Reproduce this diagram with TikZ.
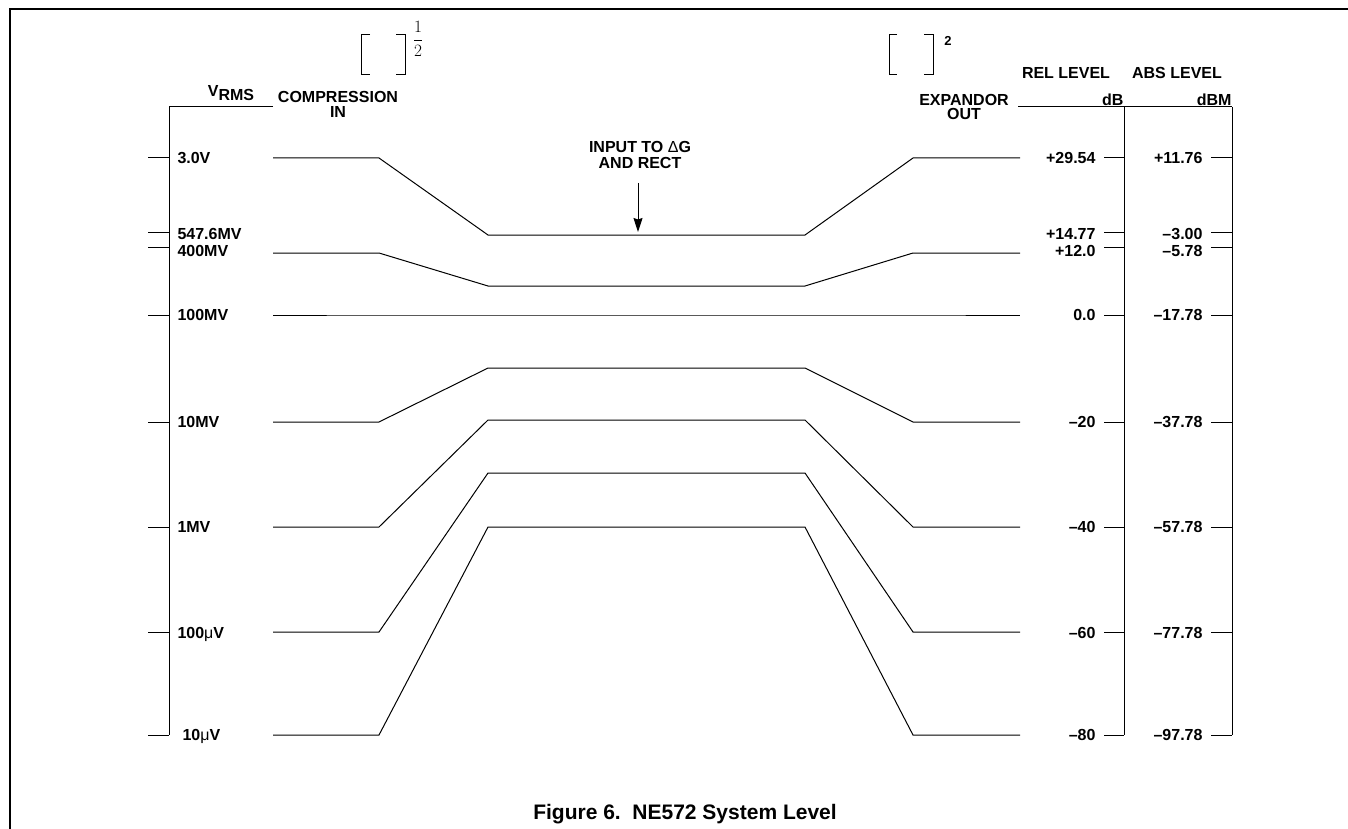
\documentclass[tikz,border=0pt]{standalone}
\usepackage{fontspec}
\setmainfont{Liberation Sans}
\usetikzlibrary{arrows.meta}
\tikzset{
  lbl/.style={font=\bfseries\fontsize{16}{17}\selectfont, inner sep=0pt, text height=11.5pt, text depth=0pt},
  tick/.style={line width=1pt},
}
\begin{document}
\begin{tikzpicture}[x=1pt,y=-1pt,line width=1pt]
\useasboundingbox (0,0) rectangle (1348,829);
% frame
\draw[line width=1.4pt] (10,829) -- (10,9) -- (1348,9);

% scales
\draw (273,107) -- (169,107) -- (169,735);
\draw (1018,107) -- (1232,107);
\draw (1124,107) -- (1124,735);
\draw (1232,107) -- (1232,735);

% ticks and level labels
\foreach \ty/\ly/\lx/\vl/\rl/\al [count=\i] in {
    158/158/177/3.0V/+29.54/+11.76,
    232/234/177/547.6MV/+14.77/{--3.00},
    247/251/177/400MV/+12.0/{--5.78},
    315/315/177/100MV/0.0/{--17.78},
    422/422/177/10MV/{--20}/{--37.78},
    527/527/177/1MV/{--40}/{--57.78},
    632/633/177/100{\mdseries μ}V/{--60}/{--77.78},
    735/735/182/10{\mdseries μ}V/{--80}/{--97.78}}{
  \draw[tick] (148,\ty) -- (169,\ty);
  \draw[tick] (1104,\ty) -- (1124,\ty);
  \draw[tick] (1211,\ty) -- (1232,\ty);
  \node[lbl, anchor=west] (v\i) at (\lx,\ly) {\vl};
  \node[lbl, anchor=east] (rel\i) at (1096,\ly) {\rl};
  \node[lbl, anchor=east] (abs\i) at (1203,\ly) {\al};
}

% signal levels through compressor and expandor
\foreach \yo/\ym in {158/235, 253/286, 315/315, 422/368, 527/420, 632/473, 735/527}
  \draw (273,\yo) -- (379,\yo) -- (488,\ym) -- (805,\ym) -- (913,\yo) -- (1020,\yo);

% column heads
\node[lbl] (vrms) at (231,91) {V\raisebox{-4pt}{RMS}};
\node[lbl] (comp) at (338,97) {COMPRESSION};
\node[lbl] (compin) at (338,112) {IN};
\node[lbl] (exp) at (964,100) {EXPANDOR};
\node[lbl] (expout) at (964,114) {OUT};
\node[lbl] (rel) at (1066,73) {REL LEVEL};
\node[lbl] (abs) at (1177,73) {ABS LEVEL};
\node[lbl, anchor=east] (db) at (1124,100) {dB};
\node[lbl, anchor=east] (dbm) at (1232,100) {dBM};

% brackets
\draw (370,35) -- (361,35) -- (361,75) -- (370,75);
\draw (396,35) -- (405,35) -- (405,75) -- (396,75);
\node[font=\fontsize{16.5}{18}\selectfont, inner sep=0pt] (half) at (418,39) {$\displaystyle\frac{1}{2}$};
\draw (897,35) -- (889,35) -- (889,75) -- (897,75);
\draw (924,35) -- (933,35) -- (933,75) -- (924,75);
\node[lbl, font=\bfseries\fontsize{13}{14}\selectfont, text height=9.5pt] (sq) at (948,41) {2};

% input to delta G
\node[lbl] (inp) at (640,147) {INPUT TO {\mdseries Δ}G};
\node[lbl] (inp2) at (640,163) {AND RECT};
\coordinate (arrtop) at (638,183);
\coordinate (arrtip) at (638,232);
\draw[-{Stealth[length=14pt,width=9pt,inset=1.5pt]}] (arrtop) -- (arrtip);

% caption
\node[lbl, font=\bfseries\fontsize{21}{23}\selectfont, text height=15pt] (cap) at (685,812) {Figure 6.\ \ NE572 System Level};
\end{tikzpicture}
\end{document}
